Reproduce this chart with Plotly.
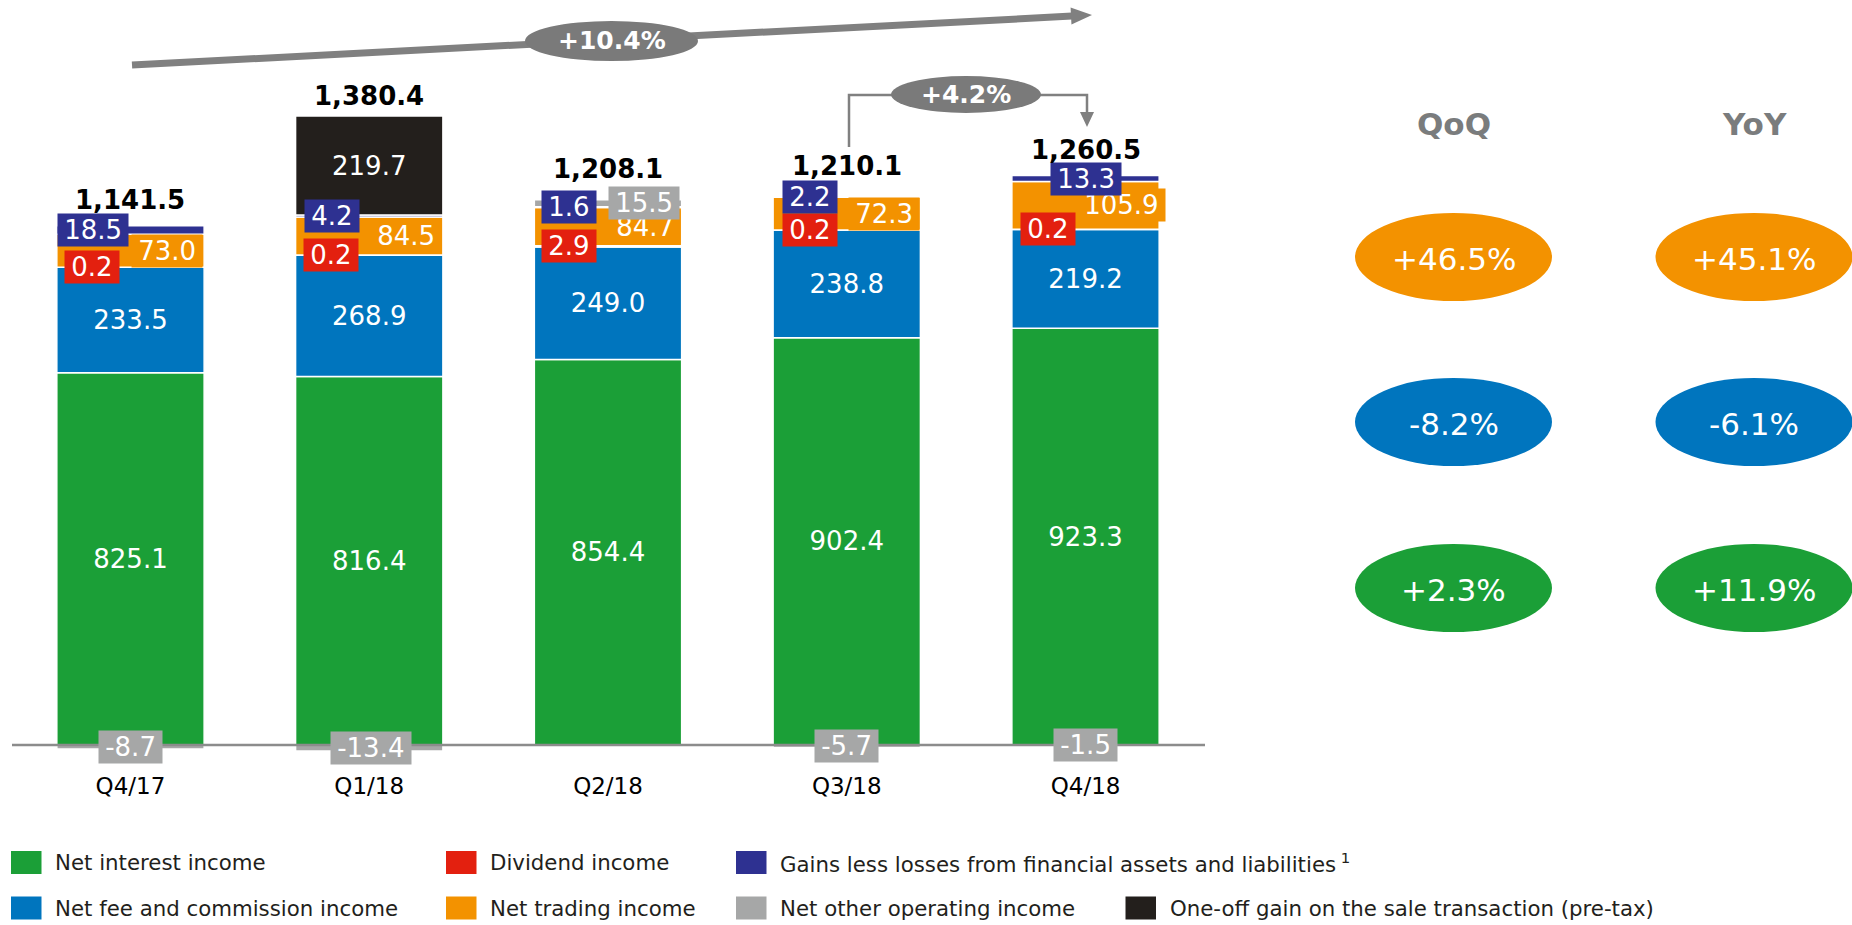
import math
import plotly.graph_objects as go

# ---------------- data ----------------
quarters = ["Q4/17", "Q1/18", "Q2/18", "Q3/18", "Q4/18"]
net_interest_income = [825.1, 816.4, 854.4, 902.4, 923.3]
net_fee_commission_income = [233.5, 268.9, 249.0, 238.8, 219.2]
dividend_income = [0.2, 0.2, 2.9, 0.2, 0.2]
net_trading_income = [73.0, 84.5, 84.7, 72.3, 105.9]
gains_less_losses = [18.5, 4.2, 1.6, 2.2, 13.3]
net_other_operating_income = [-8.7, -13.4, 15.5, -5.7, -1.5]
one_off_gain = [0.0, 219.7, 0.0, 0.0, 0.0]
total_income = [1141.5, 1380.4, 1208.1, 1210.1, 1260.5]

total_growth_yoy = "+10.4%"
total_growth_qoq = "+4.2%"
change_headers = ["QoQ", "YoY"]
qoq_changes = ["+46.5%", "-8.2%", "+2.3%"]
yoy_changes = ["+45.1%", "-6.1%", "+11.9%"]

series_names = [
    "Net interest income",
    "Net fee and commission income",
    "Dividend income",
    "Net trading income",
    "Gains less losses from financial assets and liabilities",
    "Net other operating income",
    "One-off gain on the sale transaction (pre-tax)",
]

# ---------------- styles ----------------
FONT = "DejaVu Sans, Verdana, sans-serif"
GREEN = "#1b9f37"
BLUE = "#0075be"
RED = "#e3200f"
ORANGE = "#f39200"
NAVY = "#2e3191"
GRAY = "#a6a7a7"
BLACK = "#231f1c"
ARROW_GRAY = "#808080"
BUBBLE_GRAY = "#7a7a7a"
HEAD_GRAY = "#7a7c7d"

W, H = 1852, 925
MB = 155
PH = H - MB
ZERO_PX = 745.0
PX_PER_UNIT = 0.4513
Y_TOP = ZERO_PX / PX_PER_UNIT
Y_BOT = -(PH - ZERO_PX) / PX_PER_UNIT


def fx(px):
    return px / W


def fy(py):
    return (PH - py) / PH


series = [
    ("nii", series_names[0], net_interest_income, GREEN, True),
    ("fee", series_names[1], net_fee_commission_income, BLUE, True),
    ("div", series_names[2], dividend_income, RED, False),
    ("trd", series_names[3], net_trading_income, ORANGE, False),
    ("gl", series_names[4], gains_less_losses, NAVY, False),
    ("oth", series_names[5], net_other_operating_income, GRAY, False),
    ("one", series_names[6], one_off_gain, BLACK, True),
]

fig = go.Figure()
for key, name, vals, color, labelled in series:
    bar = dict(
        x=quarters,
        y=[v if v else None for v in vals],
        name=name,
        marker=dict(color=color, line=dict(color="white", width=1.5)),
        showlegend=False,
        hoverinfo="name+y",
    )
    if labelled:
        bar.update(
            text=[f"{v:.1f}" if v else None for v in vals],
            textposition="inside",
            insidetextanchor="middle",
            textangle=0,
            textfont=dict(family=FONT, size=26, color="white"),
        )
    else:
        bar.update(textposition="none")
    fig.add_trace(go.Bar(**bar))

# stack geometry from data
segments = {}
tops = []
for i in range(len(quarters)):
    pos, neg = 0.0, 0.0
    for key, name, vals, color, labelled in series:
        v = vals[i]
        if v >= 0:
            segments[(key, i)] = (pos, pos + v)
            pos += v
        else:
            segments[(key, i)] = (neg + v, neg)
            neg += v
    tops.append(pos)

annotations = []
shapes = []

# boxed labels for small segments
box_labels = [
    ("trd", net_trading_income, ORANGE, [73, 73, 73, 73, 80], "right"),
    ("div", dividend_income, RED, [-38, -38, -39, -37, -38], "center"),
    ("gl", gains_less_losses, NAVY, [-37, -37, -39, -37, 0], "center"),
    ("oth", net_other_operating_income, GRAY, [0, 2, 36, 0, 0], "center"),
]
for key, vals, color, dxs, anchor in box_labels:
    for i, v in enumerate(vals):
        lo, hi = segments[(key, i)]
        annotations.append(dict(
            x=quarters[i], y=(lo + hi) / 2, xref="x", yref="y",
            xshift=dxs[i], xanchor=anchor, yanchor="middle",
            text=f"\u2009{v:.1f}\u2009", showarrow=False,
            bgcolor=color, borderpad=1,
            font=dict(family=FONT, size=26, color="white"),
        ))

# totals
total_dy = [26, 20, 31, 30, 26]
for i, t in enumerate(total_income):
    annotations.append(dict(
        x=quarters[i], y=tops[i], xref="x", yref="y", yshift=total_dy[i],
        xanchor="center", yanchor="middle", showarrow=False,
        text=f"<b>{t:,.1f}</b>",
        font=dict(family=FONT, size=26, color="black"),
    ))

# zero axis line
shapes.append(dict(type="line", xref="paper", yref="y",
                   x0=fx(12), x1=fx(1205), y0=0, y1=0,
                   line=dict(color="#8c8c8c", width=2.5), layer="above"))


def arrow_head(tip, tail, length, half_w):
    dx, dy = tip[0] - tail[0], tip[1] - tail[1]
    n = math.hypot(dx, dy)
    ux, uy = dx / n, dy / n
    bx, by = tip[0] - length * ux, tip[1] - length * uy
    px_, py_ = -uy, ux
    p1 = (bx + half_w * px_, by + half_w * py_)
    p2 = (bx - half_w * px_, by - half_w * py_)
    path = (f"M {fx(tip[0])},{fy(tip[1])} L {fx(p1[0])},{fy(p1[1])} "
            f"L {fx(p2[0])},{fy(p2[1])} Z")
    return (bx, by), path


# big growth arrow (Q4/17 -> Q4/18)
tail, tip = (132, 65), (1092, 15)
base, head_path = arrow_head(tip, tail, 21, 8.5)
shapes.append(dict(type="line", xref="paper", yref="paper",
                   x0=fx(tail[0]), y0=fy(tail[1]), x1=fx(base[0] + 1), y1=fy(base[1]),
                   line=dict(color=ARROW_GRAY, width=7), layer="above"))
shapes.append(dict(type="path", xref="paper", yref="paper", path=head_path,
                   fillcolor=ARROW_GRAY, line=dict(width=0), layer="above"))
shapes.append(dict(type="circle", xref="paper", yref="paper",
                   x0=fx(525), x1=fx(698), y0=fy(61), y1=fy(21),
                   fillcolor=BUBBLE_GRAY, line=dict(width=0), layer="above"))
annotations.append(dict(x=fx(611.5), y=fy(41), xref="paper", yref="paper",
                        xanchor="center", yanchor="middle",
                        text=f"<b>{total_growth_yoy}</b>", showarrow=False,
                        font=dict(family=FONT, size=25, color="white")))

# QoQ bracket arrow (Q3/18 -> Q4/18)
shapes.append(dict(type="path", xref="paper", yref="paper",
                   path=f"M {fx(849)},{fy(147)} L {fx(849)},{fy(95)} L {fx(1087)},{fy(95)} L {fx(1087)},{fy(113)}",
                   line=dict(color=ARROW_GRAY, width=2.5), layer="above"))
_, small_head = arrow_head((1087, 127), (1087, 95), 15, 7)
shapes.append(dict(type="path", xref="paper", yref="paper", path=small_head,
                   fillcolor=ARROW_GRAY, line=dict(width=0), layer="above"))
shapes.append(dict(type="circle", xref="paper", yref="paper",
                   x0=fx(891), x1=fx(1041), y0=fy(113), y1=fy(76),
                   fillcolor=BUBBLE_GRAY, line=dict(width=0), layer="above"))
annotations.append(dict(x=fx(966), y=fy(95), xref="paper", yref="paper",
                        xanchor="center", yanchor="middle",
                        text=f"<b>{total_growth_qoq}</b>", showarrow=False,
                        font=dict(family=FONT, size=25, color="white")))

# right panel: QoQ / YoY changes
col_cx = [1453.5, 1754]
row_cy = [257, 422, 588]
row_colors = [ORANGE, BLUE, GREEN]
for c, header in enumerate(change_headers):
    annotations.append(dict(x=fx(col_cx[c]), y=fy(124), xref="paper", yref="paper",
                            xanchor="center", yanchor="middle",
                            text=f"<b>{header}</b>", showarrow=False,
                            font=dict(family=FONT, size=31, color=HEAD_GRAY)))
    vals = qoq_changes if c == 0 else yoy_changes
    for r, txt in enumerate(vals):
        cx, cy = col_cx[c], row_cy[r]
        shapes.append(dict(type="circle", xref="paper", yref="paper",
                           x0=fx(cx - 98.5), x1=fx(cx + 98.5),
                           y0=fy(cy + 44), y1=fy(cy - 44),
                           fillcolor=row_colors[r], line=dict(width=0)))
        annotations.append(dict(x=fx(cx), y=fy(cy + 2), xref="paper", yref="paper",
                                xanchor="center", yanchor="middle",
                                text=txt, showarrow=False,
                                font=dict(family=FONT, size=31, color="white")))

# legend (manual, two rows)
legend_layout = [
    (0, 11, 0), (1, 11, 1),
    (2, 446, 0), (3, 446, 1),
    (4, 736, 0), (5, 736, 1),
    (6, 1125.5, 1),
]
row_y = [862.5, 908]
for idx, x_sw, row in legend_layout:
    cy = row_y[row]
    shapes.append(dict(type="rect", xref="paper", yref="paper",
                       x0=fx(x_sw), x1=fx(x_sw + 30.5),
                       y0=fy(cy + 11.5), y1=fy(cy - 11.5),
                       fillcolor=series[idx][3], line=dict(width=0)))
    label = series_names[idx]
    if idx == 4:
        label += "<sup> 1</sup>"
    annotations.append(dict(x=fx(x_sw + 42), y=fy(cy), xref="paper", yref="paper",
                            xanchor="left", yanchor="middle", showarrow=False,
                            text=label,
                            font=dict(family=FONT, size=21.3, color="#231f1c")))

fig.update_layout(
    width=W, height=H,
    margin=dict(l=0, r=0, t=0, b=MB, pad=0),
    barmode="relative",
    bargap=0.383,
    plot_bgcolor="white",
    paper_bgcolor="white",
    font=dict(family=FONT),
    xaxis=dict(type="category", domain=[fx(11.1), fx(1204.9)],
               range=[-0.5, len(quarters) - 0.5],
               showgrid=False, zeroline=False, showline=False, ticks="",
               tickfont=dict(family=FONT, size=23, color="black"),
               fixedrange=True),
    yaxis=dict(range=[Y_BOT, Y_TOP], visible=False, fixedrange=True),
    shapes=shapes,
    annotations=annotations,
)

fig.write_html("out.html")
